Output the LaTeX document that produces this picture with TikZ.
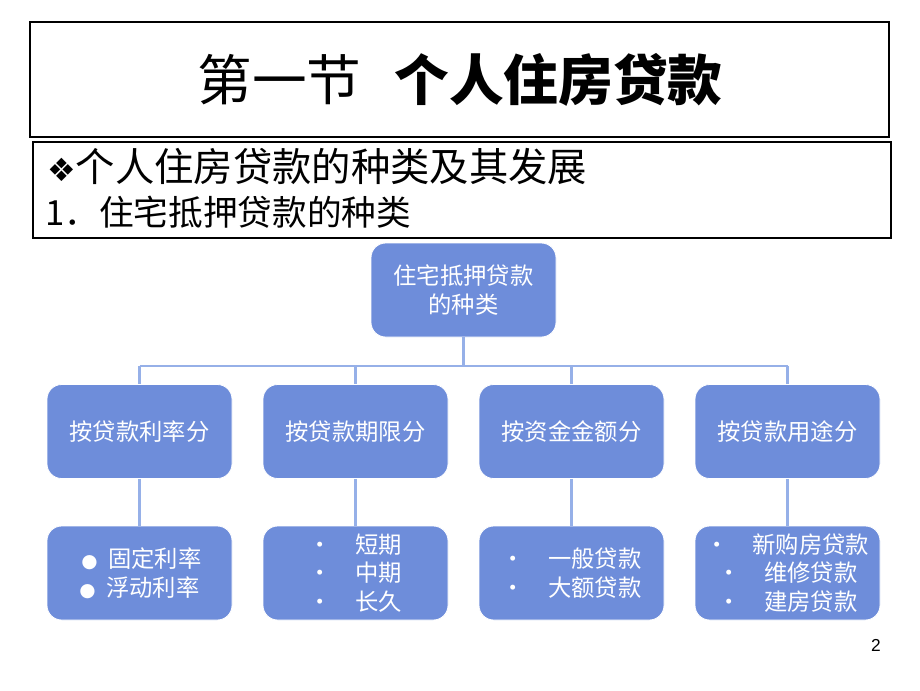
\documentclass[tikz,border=0pt]{standalone}
\usepackage{fontspec}
\setmainfont{Liberation Sans}
\newfontfamily\cjk{Noto Sans CJK SC}
\newfontfamily\djv{DejaVu Sans}
\begin{document}
\begin{tikzpicture}[x=0.75pt,y=-0.75pt,
  box/.style={draw=white,line width=0.6pt,fill=boxc,rounded corners=11pt,minimum width=138.75pt,minimum height=70.5pt,text=white,font=\cjk\fontsize{17.5}{21.5}\selectfont,align=center,inner sep=0pt},
  link/.style={draw=linec,line width=1.6pt}]
\definecolor{boxc}{RGB}{110,141,218}
\definecolor{linec}{RGB}{150,176,232}
\useasboundingbox (0,0) rectangle (920,690);
\fill[white] (0,0) rectangle (920,690);
\node[draw=black,line width=0.8pt,minimum width=644.25pt,minimum height=86.25pt,inner sep=0pt] (title) at (459.5,79.5) {};
\node (tt) at (460,80) {\cjk\fontsize{41}{44}\selectfont 第一节\hspace{0.6em}\textbf{个人住房贷款}};
\node[draw=black,line width=0.8pt,minimum width=643.5pt,minimum height=72pt,inner sep=0pt] (sub) at (462,190) {};
\node[anchor=west,inner sep=0pt] (s1) at (47,167) {{\djv\fontsize{24}{26}\selectfont ❖}\cjk\fontsize{29.5}{32}\selectfont 个人住房贷款的种类及其发展};
\node[anchor=west,inner sep=0pt] (s2) at (45,212) {\cjk\fontsize{26}{29}\selectfont 1．住宅抵押贷款的种类};
\node[box] (root) at (463.5,290) {住宅抵押贷款\\的种类};
\foreach \i/\x/\t/\b in {1/139.5/按贷款利率分/{\,\djv\fontsize{14}{21.5}\selectfont●\cjk\fontsize{17.5}{21.5}\selectfont\ \ 固定利率\\{\djv\fontsize{14}{21.5}\selectfont●}\ \ 浮动利率},
 2/355.5/按贷款期限分/{•\quad 短期\\•\quad 中期\\•\quad 长久},
 3/571.5/按资金金额分/{•\quad 一般贷款\\•\quad 大额贷款},
 4/787.5/按贷款用途分/{•\quad 新购房贷款\\•\quad 维修贷款\\•\quad 建房贷款}}{
  \node[box] (m\i) at (\x,431.5) {\t};
  \node[box] (b\i) at (\x,573) {\b};
  \draw[link] (m\i.south) -- (b\i.north);
}
\coordinate (bar) at (463.5,366);
\draw[link] (root.south) -- (bar);
\draw[link] (m1.north |- bar) -- (m4.north |- bar);
\foreach \i in {1,...,4} \draw[link] (m\i.north |- bar) -- (m\i.north);
\node (pg) at (876,645) {\fontsize{13}{15}\selectfont 2};
\end{tikzpicture}
\end{document}
